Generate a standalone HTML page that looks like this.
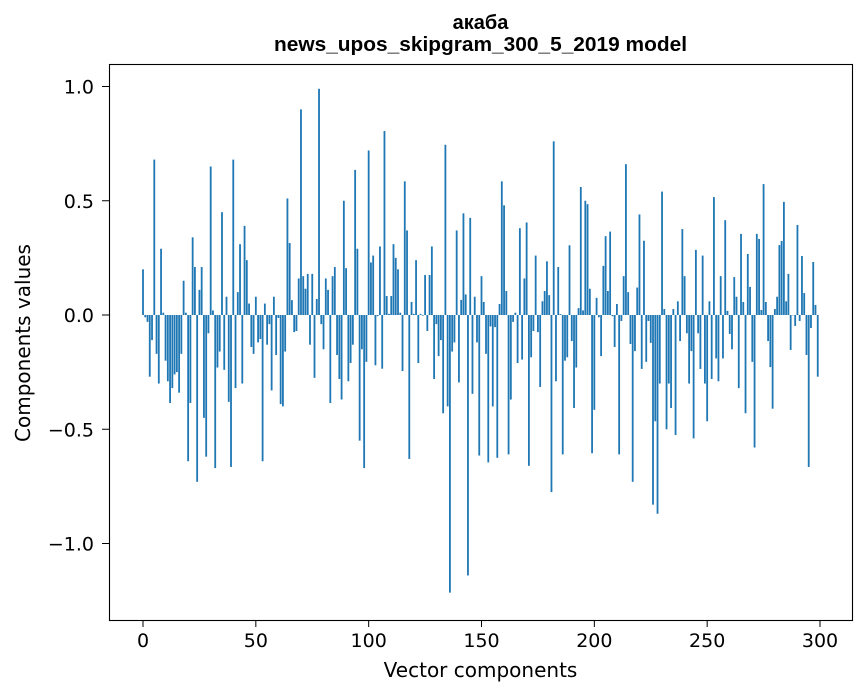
<!DOCTYPE html>
<html><head><meta charset="utf-8"><style>
body{margin:0;background:#fff;font-family:"DejaVu Sans","Liberation Sans",sans-serif}
svg text{font-family:"DejaVu Sans","Liberation Sans",sans-serif;fill:#000}
svg text.ttl{font-family:"Liberation Sans","DejaVu Sans",sans-serif}
</style></head><body>
<svg id="chart" width="867" height="696" xmlns="http://www.w3.org/2000/svg">
<rect width="867" height="696" fill="#fff"/>
<text class="ttl" x="480.5" y="29" font-size="20" font-weight="bold" text-anchor="middle">акаба</text>
<text class="ttl" x="480.5" y="51" font-size="20" font-weight="bold" text-anchor="middle" textLength="413" lengthAdjust="spacingAndGlyphs">news_upos_skipgram_300_5_2019 model</text>
<g id="bars"></g>
<g id="axes"></g>
<rect x="109.5" y="64.5" width="743" height="556" fill="none" stroke="#000" stroke-width="1.1"/>
<text x="480.5" y="677" font-size="20" text-anchor="middle">Vector components</text>
<text x="0" y="0" font-size="20" text-anchor="middle" transform="translate(30,343) rotate(-90)">Components values</text>
</svg>
<script>
const values=[0.20,-0.01,-0.03,-0.27,-0.11,0.68,-0.17,-0.30,0.29,0.01,
-0.20,-0.29,-0.385,-0.32,-0.26,-0.25,-0.34,-0.17,0.15,0.01,
-0.64,-0.385,0.34,0.21,-0.73,0.11,0.21,-0.45,-0.62,-0.08,
0.65,0.02,-0.67,-0.23,-0.16,0.45,-0.24,0.08,-0.38,-0.665,
0.68,-0.32,0.10,0.31,-0.30,0.39,0.24,0.05,-0.14,-0.17,
0.08,-0.12,-0.105,-0.64,0.05,-0.13,-0.04,-0.33,0.08,-0.175,
-0.013,-0.39,-0.40,-0.16,0.51,0.315,0.065,-0.075,-0.07,0.16,
0.90,0.17,0.115,0.18,-0.13,0.18,-0.275,0.07,0.99,-0.04,
-0.15,0.16,0.11,-0.385,0.17,0.21,-0.175,-0.28,-0.37,0.50,
0.205,-0.29,-0.21,-0.13,0.635,0.29,-0.55,-0.15,-0.67,-0.205,
0.72,0.23,0.26,-0.22,-0.005,0.30,-0.235,0.805,0.083,0.005,
0.083,0.31,0.25,0.20,0.01,-0.245,0.585,0.37,-0.63,0.057,
0.005,0.24,-0.21,0.005,-0.003,0.175,-0.07,0.175,0.30,-0.28,
-0.04,-0.18,-0.11,-0.43,0.745,-0.40,-1.215,-0.16,-0.12,0.37,
-0.295,0.066,0.445,0.09,-1.14,0.425,-0.345,0.08,-0.12,-0.615,
0.17,0.057,-0.17,-0.645,-0.05,-0.40,-0.053,-0.625,0.048,0.585,
0.48,0.105,-0.61,-0.37,-0.03,0.01,-0.21,0.38,-0.195,0.16,
0.405,-0.66,-0.185,-0.07,0.26,-0.075,-0.315,0.06,0.105,0.235,
0.087,-0.775,0.76,-0.29,0.21,0.004,-0.61,-0.20,-0.185,0.305,
-0.114,-0.407,-0.23,0.03,0.56,0.02,0.50,0.485,0.115,-0.605,
-0.415,0.075,-0.01,-0.18,0.215,0.345,0.105,0.365,-0.005,-0.14,
0.048,-0.61,-0.026,0.17,0.66,0.10,-0.127,-0.73,-0.158,0.12,
0.44,-0.236,0.325,-0.205,-0.026,-0.122,-0.83,-0.465,-0.87,-0.30,
0.54,0.026,-0.50,-0.30,-0.407,0.026,-0.525,0.06,-0.114,0.376,
0.17,-0.08,-0.30,-0.158,-0.54,0.285,-0.08,-0.236,0.26,-0.30,
-0.465,0.06,-0.28,0.516,-0.19,-0.29,0.17,-0.19,0.415,0.018,
-0.083,-0.15,0.166,0.08,-0.32,0.355,0.057,-0.43,0.267,0.123,
-0.205,-0.58,0.355,0.333,0.022,0.573,0.057,-0.114,-0.228,-0.41,
0.026,0.08,0.306,0.324,0.495,0.06,0.18,-0.153,0.0,-0.048,
0.394,-0.026,0.258,0.096,-0.175,-0.665,-0.057,0.232,0.044,-0.27];
const xTicks=[0,50,100,150,200,250,300];
const yTicks=[1.0,0.5,0.0,-0.5,-1.0];
const yTickLabels=["1.0","0.5","0.0","\u22120.5","\u22121.0"];
const NS="http://www.w3.org/2000/svg";
function xs(v){return 143+v*(820-143)/300;}
function ys(v){return 315-v*228.5;}
const bars=document.getElementById('bars');
values.forEach((v,i)=>{
 const r=document.createElementNS(NS,'rect');
 
 
 const x0=xs(i-0.4),x1=xs(i+0.4);
 const y0=ys(Math.max(v,0)),y1=ys(Math.min(v,0));
 r.setAttribute('x',x0);r.setAttribute('width',x1-x0);
 r.setAttribute('y',y0);r.setAttribute('height',Math.max(y1-y0,0.3));
 r.setAttribute('fill','#1f77b4');
 bars.appendChild(r);
});
const axes=document.getElementById('axes');
xTicks.forEach(t=>{
 const l=document.createElementNS(NS,'line');
 
 
 l.setAttribute('x1',xs(t));l.setAttribute('x2',xs(t));l.setAttribute('y1',620);l.setAttribute('y2',627);
 l.setAttribute('stroke','#000');axes.appendChild(l);
 const tx=document.createElementNS(NS,'text');
 
 
 tx.setAttribute('x',xs(t));tx.setAttribute('y',647);tx.setAttribute('font-size','19');tx.setAttribute('text-anchor','middle');
 tx.textContent=String(t);axes.appendChild(tx);
});
yTicks.forEach((t,i)=>{
 const l=document.createElementNS(NS,'line');
 
 
 l.setAttribute('x1',102);l.setAttribute('x2',109);l.setAttribute('y1',ys(t));l.setAttribute('y2',ys(t));
 l.setAttribute('stroke','#000');axes.appendChild(l);
 const tx=document.createElementNS(NS,'text');
 
 
 tx.setAttribute('x',94);tx.setAttribute('y',ys(t)+7);tx.setAttribute('font-size','19');tx.setAttribute('text-anchor','end');
 tx.textContent=yTickLabels[i];axes.appendChild(tx);
});
</script>
</body></html>
